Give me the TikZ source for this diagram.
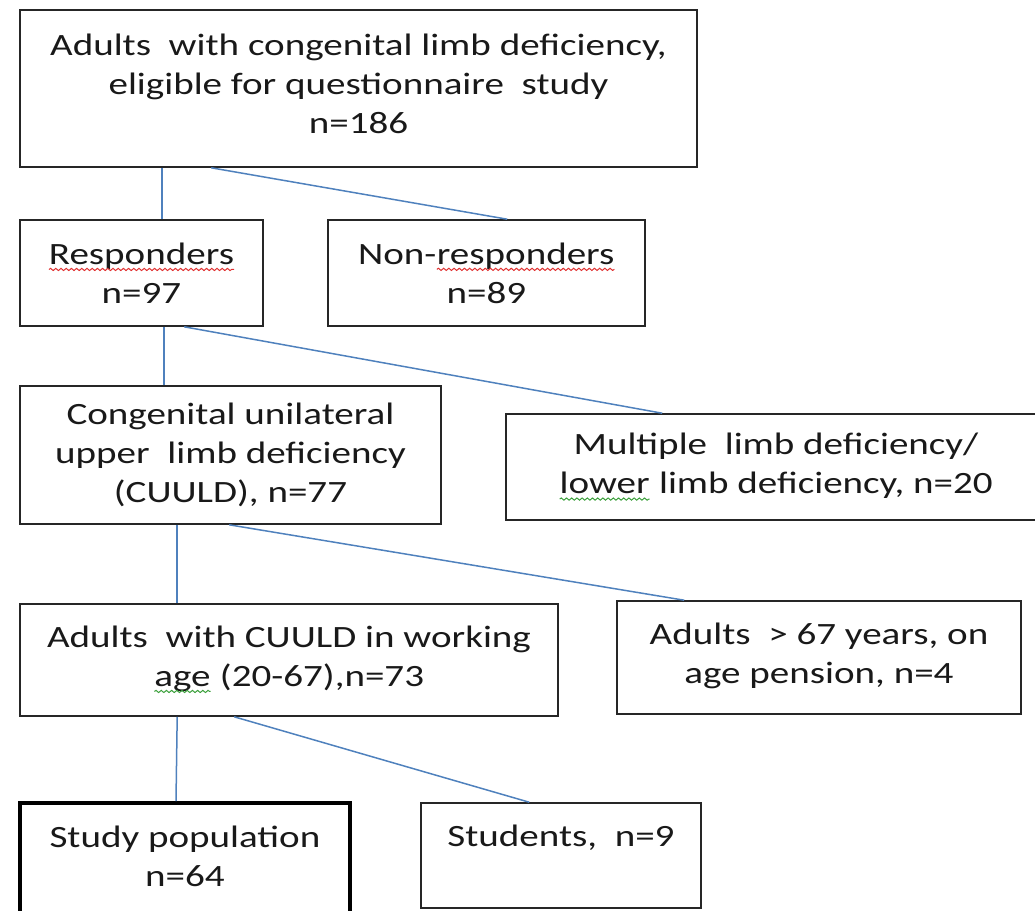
\documentclass[tikz,border=0pt]{standalone}
\usepackage{fontspec}
\setmainfont[FakeStretch=1.26]{Carlito}
\usetikzlibrary{calc,decorations.pathmorphing}
\definecolor{linkblue}{HTML}{4F81BD}
\definecolor{spellred}{HTML}{E03030}
\definecolor{grammargreen}{HTML}{3CA03C}
\newcommand\wavyword[2]{\tikz[baseline=(wv.base)]{\node[draw=none,minimum width=0pt,minimum height=0pt,
        inner sep=0pt,outer sep=0pt] (wv) {#2};
    \draw[#1,line width=0.5pt,decorate,decoration={snake,amplitude=0.55pt,segment length=2.6pt}]
        ([yshift=-2.6pt]wv.base west) -- ([yshift=-2.6pt]wv.base east);}}
\begin{document}
\begin{tikzpicture}[x=0.5pt,y=-0.5pt,
        box/.style={draw=black!85,line width=0.8pt,align=center,inner sep=0pt,
            font=\fontsize{15.5pt}{19.5pt}\selectfont,text=black!90},
        link/.style={draw=linkblue,line width=0.75pt}]
    \useasboundingbox (0,0) rectangle (1035,911);
    % boxes
    \node[box,minimum width=338.5pt,minimum height=78.5pt] (top) at (358.5,88.5)
        {Adults\ \ with congenital limb deficiency,\\ eligible for questionnaire\ \ study\\ n=186\\[-15pt]\mbox{}};
    \node[box,minimum width=121.5pt,minimum height=53pt] (resp) at (141.5,273)
        {\wavyword{spellred}{Responders}\\ n=97};
    \node[box,minimum width=158.5pt,minimum height=53pt] (nonresp) at (486.5,273)
        {Non-\wavyword{spellred}{responders}\\ n=89};
    \node[box,minimum width=210.5pt,minimum height=69pt] (cuuld) at (230.5,455)
        {Congenital unilateral\\ upper\ \ limb deficiency\\ (CUULD), n=77};
    \node[box,minimum width=270pt,minimum height=53pt] (multi) at (776,467)
        {Multiple\ \ limb deficiency/\\ \wavyword{grammargreen}{lower} limb deficiency, n=20};
    \node[box,minimum width=269pt,minimum height=56pt] (work) at (289,660)
        {Adults\ \ with CUULD in working\\ \wavyword{grammargreen}{age} (20-67),n=73\\[-15.5pt]\mbox{}};
    \node[box,minimum width=202pt,minimum height=56.5pt] (old) at (819,657.5)
        {Adults\ \ >\ 67 years, on\\ age pension, n=4\\[-15.5pt]\mbox{}};
    \node[box,line width=2pt,draw=black,minimum width=165pt,minimum height=63.5pt] (study) at (185,866.5)
        {Study population\\ n=64\\[-9.6pt]\mbox{}};
    \node[box,minimum width=140pt,minimum height=52.5pt] (stud) at (561,855.5)
        {Students,\ \ n=9\\ \mbox{}};
    % connectors
    \draw[link] ($(top.south west)+(143,0)$) -- ($(resp.north west)+(143,0)$);
    \draw[link] ($(top.south west)+(192,0)$) -- ($(nonresp.north west)+(180,0)$);
    \draw[link] ($(resp.south west)+(145,0)$) -- ($(cuuld.north west)+(145,0)$);
    \draw[link] ($(resp.south west)+(165,0)$) -- ($(multi.north west)+(157,0)$);
    \draw[link] ($(cuuld.south west)+(158,0)$) -- ($(work.north west)+(158,0)$);
    \draw[link] ($(cuuld.south west)+(210,0)$) -- ($(old.north west)+(68,0)$);
    \draw[link] ($(work.south west)+(158,0)$) -- ($(study.north west)+(158,0)$);
    \draw[link] ($(work.south west)+(215,0)$) -- ($(stud.north west)+(109,0)$);
\end{tikzpicture}
\end{document}
